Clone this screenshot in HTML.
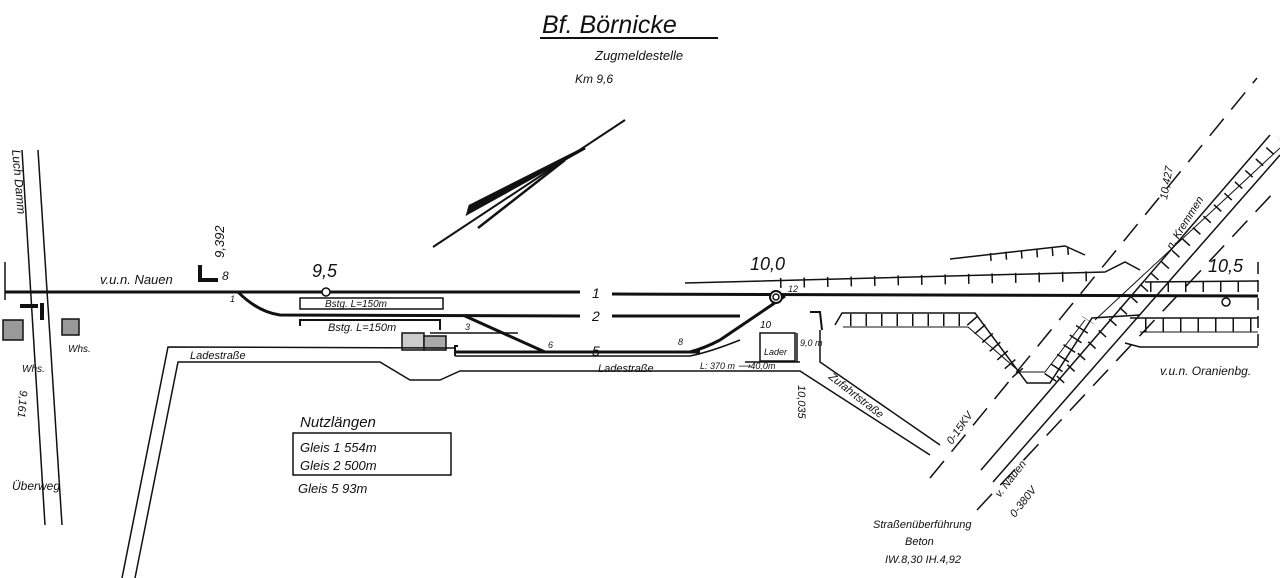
<!DOCTYPE html>
<html><head><meta charset="utf-8"><style>
html,body{margin:0;padding:0;background:#fff}
svg{display:block}
text{font-family:"Liberation Sans",sans-serif;font-style:italic;fill:#111}
</style></head><body>
<svg width="1280" height="578" viewBox="0 0 1280 578" xmlns="http://www.w3.org/2000/svg">
<rect width="1280" height="578" fill="#fff"/>
<g stroke="#111" fill="none" stroke-linecap="butt">
<!-- title -->
<text x="542" y="33" font-size="25" stroke="none">Bf. Börnicke</text>
<line x1="540" y1="38" x2="718" y2="38" stroke-width="2"/>
<!-- north arrow -->
<line x1="433" y1="247" x2="625" y2="120" stroke-width="2"/>
<path d="M468 213 L585 148 L470 206 Z" fill="#111" stroke-width="3"/>
<line x1="478" y1="228" x2="565" y2="160" stroke-width="2.5"/>
<!-- left road Luch Damm -->
<line x1="22" y1="150" x2="45" y2="525" stroke-width="1.5"/>
<line x1="38" y1="150" x2="62" y2="525" stroke-width="1.5"/>
<line x1="5" y1="262" x2="5" y2="300" stroke-width="1.5"/>
<!-- main track 1 -->
<line x1="5" y1="292" x2="580" y2="292" stroke-width="3"/>
<line x1="612" y1="294" x2="1258" y2="296" stroke-width="3"/>
<!-- track 2 -->
<path d="M238 292 Q258 312 280 315 L580 316" stroke-width="3"/>
<path d="M612 316 L740 316" stroke-width="3"/>
<line x1="720" y1="340" x2="785" y2="296" stroke-width="3"/>
<!-- 3-6 diagonal and 5 -->
<line x1="465" y1="316" x2="545" y2="352" stroke-width="3"/>
<line x1="455" y1="352" x2="700" y2="352" stroke-width="3"/>
<path d="M455 356 L690 356 Q710 352 740 340" stroke-width="1.5"/>
<path d="M690 352 Q705 348 720 340" stroke-width="3"/>
<line x1="430" y1="333" x2="518" y2="333" stroke-width="1.5"/>
<!-- Bstg platforms -->
<rect x="300" y="298" width="143" height="11" stroke-width="1.5"/>
<path d="M300 326 L300 320 L440 320 L440 330" stroke-width="2"/>
<rect x="402" y="333" width="22" height="17" stroke-width="1.5" fill="#ccc"/>
<rect x="424" y="336" width="22" height="14" stroke-width="1.5" fill="#aaa"/>
<path d="M458 346 L455 346 L455 356" stroke-width="2"/>
<!-- Ladestrasse -->
<path d="M122 578 L168 347 L455 348" stroke-width="1.5"/>
<path d="M135 578 L178 362 L380 362 L410 380 L440 380 L460 371 L800 371 L930 455" stroke-width="1.5"/>
<path d="M820 330 L820 362 L940 445" stroke-width="1.5"/>
<path d="M745 362 L800 362" stroke-width="1.5"/>
<!-- Lader box -->
<rect x="760" y="333" width="35" height="28" stroke-width="1.5"/>
<line x1="797" y1="333" x2="797" y2="362" stroke-width="1.5"/>
<path d="M810 312 L820 312 L822 330" stroke-width="2"/>
<!-- station symbols -->
<circle cx="326" cy="292" r="4" fill="#fff" stroke-width="1.5"/>
<circle cx="776" cy="297" r="6" fill="#fff" stroke-width="2"/>
<circle cx="776" cy="297" r="3" stroke-width="1.5"/>
<circle cx="1226" cy="302" r="4" fill="#fff" stroke-width="1.5"/>
<path d="M200 265 L200 280 L218 280" stroke-width="4"/>
<!-- houses -->
<rect x="3" y="320" width="20" height="20" fill="#999" stroke-width="1.5"/>
<rect x="62" y="319" width="17" height="16" fill="#999" stroke-width="1.5"/>
<path d="M20 306 L38 306 M42 303 L42 320" stroke-width="4"/>
<!-- top embankment -->
<path d="M685 283 L1105 272 L1125 262 L1140 270" stroke-width="1.5"/>
<line x1="780" y1="283" x2="1100" y2="276" stroke-width="10" stroke-dasharray="1.5,22"/>
<path d="M950 259 L1065 246 L1085 255" stroke-width="1.5"/>
<line x1="990" y1="257" x2="1080" y2="250" stroke-width="8" stroke-dasharray="1.5,14"/>
<!-- lower embankment -->
<path d="M835 325 L842 313 L975 313 L1027 383 L1050 383 L1092 318 L1140 315" stroke-width="1.5"/>
<path d="M843 327 L968 327 L1020 372 L1045 372 L1085 320" stroke-width="1"/>
<line x1="850" y1="320" x2="965" y2="320" stroke-width="12" stroke-dasharray="1.5,14"/>
<line x1="972" y1="320" x2="1022" y2="378" stroke-width="14" stroke-dasharray="1.5,10"/>
<line x1="1050" y1="378" x2="1088" y2="320" stroke-width="14" stroke-dasharray="1.5,10"/>
<!-- right embankments -->
<path d="M1130 318 L1258 318" stroke-width="1.5"/>
<path d="M1140 332 L1258 332" stroke-width="1"/>
<line x1="1145" y1="325" x2="1255" y2="325" stroke-width="14" stroke-dasharray="1.5,16"/>
<path d="M1125 343 L1140 347 L1258 347" stroke-width="1.5"/>
<path d="M1145 282 L1258 281" stroke-width="1.5"/>
<line x1="1150" y1="287" x2="1255" y2="287" stroke-width="10" stroke-dasharray="1.5,16"/>
<!-- diagonal road v. Nauen -->
<line x1="981" y1="470" x2="1270" y2="135" stroke-width="1.5"/>
<line x1="993" y1="482" x2="1280" y2="155" stroke-width="1.5"/>
<line x1="1060" y1="380" x2="1280" y2="140" stroke-width="10" stroke-dasharray="1.5,14"/>
<line x1="1095" y1="320" x2="1280" y2="148" stroke-width="1"/>
<!-- dashed lines -->
<line x1="930" y1="478" x2="1257" y2="78" stroke-width="1.5" stroke-dasharray="22,12"/>
<line x1="977" y1="510" x2="1276" y2="190" stroke-width="1.5" stroke-dasharray="22,12"/>
<line x1="1258" y1="262" x2="1258" y2="350" stroke-width="1.5" stroke-dasharray="12,6"/>
<!-- table -->
<rect x="293" y="433" width="158" height="42" stroke-width="1.5"/>
</g>
<g stroke="none">
<text x="595" y="60" font-size="13">Zugmeldestelle</text>
<text x="575" y="83" font-size="12">Km 9,6</text>
<text x="100" y="284" font-size="13">v.u.n. Nauen</text>
<text x="312" y="277" font-size="18">9,5</text>
<text x="750" y="270" font-size="18">10,0</text>
<text x="1208" y="272" font-size="18">10,5</text>
<text x="222" y="280" font-size="12">8</text>
<text x="230" y="302" font-size="9">1</text>
<text x="592" y="298" font-size="14">1</text>
<text x="592" y="321" font-size="14">2</text>
<text x="592" y="356" font-size="14">5</text>
<text x="325" y="307" font-size="10">Bstg.  L=150m</text>
<text x="328" y="331" font-size="11">Bstg.  L=150m</text>
<text x="465" y="330" font-size="9">3</text>
<text x="548" y="348" font-size="9">6</text>
<text x="678" y="345" font-size="9">8</text>
<text x="760" y="328" font-size="10">10</text>
<text x="788" y="292" font-size="9">12</text>
<text x="764" y="355" font-size="9">Lader</text>
<text x="800" y="346" font-size="9">9,0 m</text>
<text x="190" y="359" font-size="11">Ladestraße</text>
<text x="598" y="372" font-size="11">Ladestraße</text>
<text x="700" y="369" font-size="9">L: 370 m  ⟶40,0m</text>
<text x="1160" y="375" font-size="12">v.u.n. Oranienbg.</text>
<text x="300" y="427" font-size="15">Nutzlängen</text>
<text x="300" y="452" font-size="13">Gleis 1      554m</text>
<text x="300" y="470" font-size="13">Gleis 2      500m</text>
<text x="298" y="493" font-size="13">Gleis 5        93m</text>
<text x="12" y="490" font-size="12">Überweg</text>
<text x="22" y="372" font-size="10">Whs.</text>
<text x="68" y="352" font-size="10">Whs.</text>
<text x="873" y="528" font-size="11">Straßenüberführung</text>
<text x="905" y="545" font-size="11">Beton</text>
<text x="885" y="563" font-size="11">IW.8,30  IH.4,92</text>
<text font-size="13" transform="translate(224,258) rotate(-90)">9,392</text>
<text font-size="12" transform="translate(12,150) rotate(85)">Luch Damm</text>
<text font-size="11" transform="translate(20,390) rotate(95)">9,161</text>
<text font-size="11" transform="translate(798,385) rotate(90)">10,035</text>
<text font-size="11" transform="translate(828,378) rotate(38)">Zufahrtstraße</text>
<text font-size="11" transform="translate(952,445) rotate(-55)">0-15KV</text>
<text font-size="11" transform="translate(1000,498) rotate(-52)">v. Nauen</text>
<text font-size="11" transform="translate(1015,518) rotate(-52)">0-380V</text>
<text font-size="11" transform="translate(1172,250) rotate(-58)">n. Kremmen</text>
<text font-size="11" transform="translate(1167,200) rotate(-80)">10,427</text>
</g>
</svg>
</body></html>
